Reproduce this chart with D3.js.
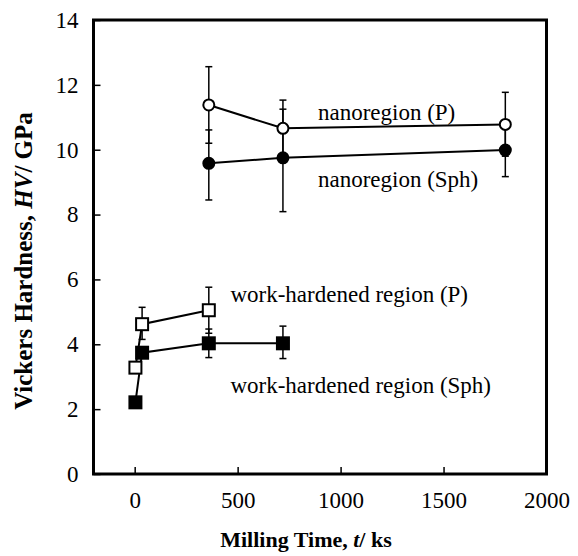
<!DOCTYPE html>
<html>
<head>
<meta charset="utf-8">
<script src="https://cdn.jsdelivr.net/npm/d3@7"></script>
<style>
  body { margin: 0; background: #fff; }
  svg { display: block; font-family: "Liberation Serif", "DejaVu Serif", serif; }
  svg text { font-family: "Liberation Serif", serif; }
</style>
</head>
<body>
<svg id="chart" width="578" height="556"></svg>
<script>
// milling time (ks) and Vickers hardness (GPa)
const nanoTime = [360, 720, 1800];
const nanoP = [11.38, 10.66, 10.78];
const nanoPHi = [12.56, 11.53, 11.77];
const nanoPLo = [10.2, 9.8, 9.8];
const nanoSph = [9.58, 9.75, 9.99];
const nanoSphHi = [10.61, 11.25, 10.78];
const nanoSphLo = [8.45, 8.09, 9.17];

const workTimeP = [3.6, 36, 360];
const workP = [3.28, 4.62, 5.05];
const workPHi = [3.28, 5.14, 5.76];
const workPLo = [3.28, 4.15, 4.34];
const workTimeSph = [3.6, 36, 360, 720];
const workSph = [2.21, 3.74, 4.03, 4.03];
const workSphHi = [2.21, 3.74, 4.47, 4.56];
const workSphLo = [2.21, 3.74, 3.59, 3.56];

const xTicks = [0, 500, 1000, 1500, 2000];
const yTicks = [0, 2, 4, 6, 8, 10, 12, 14];

// label anchors in data units
const labels = [
  { text: "nanoregion (P)", t: 890, hv: 10.92 },
  { text: "nanoregion (Sph)", t: 890, hv: 8.86 },
  { text: "work-hardened region (P)", t: 465, hv: 5.31 },
  { text: "work-hardened region (Sph)", t: 465, hv: 2.51 },
];

const svg = d3.select("#chart");
const pLeft = 93.5, pRight = 546.5, pTop = 20, pBottom = 474;
const fs = 23;

const x = d3.scaleLinear().domain([-200, 2000]).range([pLeft, pRight]);
const y = d3.scaleLinear().domain([0, 14]).range([pBottom, pTop]);

const toPts = (ts, vs, hi, lo) => ts.map((t, i) => ({ t: t, v: vs[i], hi: hi[i], lo: lo[i] }));
const series = [
  { pts: toPts(nanoTime, nanoP, nanoPHi, nanoPLo), shape: "circle", fill: "#fff" },
  { pts: toPts(nanoTime, nanoSph, nanoSphHi, nanoSphLo), shape: "circle", fill: "#000" },
  { pts: toPts(workTimeP, workP, workPHi, workPLo), shape: "square", fill: "#fff" },
  { pts: toPts(workTimeSph, workSph, workSphHi, workSphLo), shape: "square", fill: "#000" },
];

// axes, ticks pointing inward
const xAxis = svg.append("g")
  .attr("transform", `translate(0,${pBottom})`)
  .call(d3.axisBottom(x).tickValues(xTicks).tickFormat(d3.format("d")).tickSize(-7).tickPadding(18));
const yAxis = svg.append("g")
  .attr("transform", `translate(${pLeft},0)`)
  .call(d3.axisLeft(y).tickValues(yTicks).tickFormat(d3.format("d")).tickSize(-7).tickPadding(15));
[xAxis, yAxis].forEach((a) => {
  a.attr("font-family", "Liberation Serif").attr("font-size", fs);
  a.select(".domain").remove();
  a.selectAll("line").attr("stroke", "#000").attr("stroke-width", 1.5);
  a.selectAll("text")
    .attr("fill", "#000")
    .attr("font-family", "Liberation Serif")
    .style("font-size", fs + "px");
});

const line = d3.line().x((d) => x(d.t)).y((d) => y(d.v));

// connecting lines
svg.selectAll("path.series")
  .data(series)
  .enter()
  .append("path")
  .attr("class", "series")
  .attr("d", (d) => line(d.pts))
  .attr("fill", "none")
  .attr("stroke", "#000")
  .attr("stroke-width", 2);

// error bars
const allPts = series.flatMap((s) => s.pts).filter((p) => p.hi !== p.lo);
const eb = svg.selectAll("g.err").data(allPts).enter().append("g").attr("class", "err");
eb.append("line")
  .attr("x1", (d) => x(d.t)).attr("x2", (d) => x(d.t))
  .attr("y1", (d) => y(d.hi)).attr("y2", (d) => y(d.lo));
eb.append("line")
  .attr("x1", (d) => x(d.t) - 3.5).attr("x2", (d) => x(d.t) + 3.5)
  .attr("y1", (d) => y(d.hi)).attr("y2", (d) => y(d.hi));
eb.append("line")
  .attr("x1", (d) => x(d.t) - 3.5).attr("x2", (d) => x(d.t) + 3.5)
  .attr("y1", (d) => y(d.lo)).attr("y2", (d) => y(d.lo));
eb.selectAll("line").attr("stroke", "#000").attr("stroke-width", 1.5);

// markers
series.forEach((s) => {
  const g = svg.append("g");
  if (s.shape === "circle") {
    g.selectAll("circle").data(s.pts).enter().append("circle")
      .attr("cx", (d) => x(d.t)).attr("cy", (d) => y(d.v)).attr("r", 5.5)
      .attr("fill", s.fill).attr("stroke", "#000").attr("stroke-width", 2);
  } else {
    g.selectAll("rect").data(s.pts).enter().append("rect")
      .attr("x", (d) => x(d.t) - 6).attr("y", (d) => y(d.v) - 6)
      .attr("width", 12).attr("height", 12)
      .attr("fill", s.fill).attr("stroke", "#000").attr("stroke-width", 2);
  }
});

// frame
svg.append("rect")
  .attr("x", pLeft).attr("y", pTop)
  .attr("width", pRight - pLeft).attr("height", pBottom - pTop)
  .attr("fill", "none").attr("stroke", "#000").attr("stroke-width", 3);

// annotations
svg.selectAll("text.lab")
  .data(labels)
  .enter()
  .append("text")
  .attr("class", "lab")
  .attr("x", (d) => x(d.t))
  .attr("y", (d) => y(d.hv))
  .style("font-size", fs + "px")
  .text((d) => d.text);

// axis titles
const xt = svg.append("text")
  .attr("x", 306).attr("y", 547)
  .attr("text-anchor", "middle")
  .style("font-size", "22px")
  .style("font-weight", "bold");
xt.append("tspan").text("Milling Time, ");
xt.append("tspan").style("font-style", "italic").text("t");
xt.append("tspan").text("/ ks");

const yt = svg.append("text")
  .attr("transform", "translate(32,261) rotate(-90)")
  .attr("text-anchor", "middle")
  .style("font-size", "25px")
  .style("font-weight", "bold");
yt.append("tspan").text("Vickers Hardness, ");
yt.append("tspan").style("font-style", "italic").text("HV");
yt.append("tspan").text("/ GPa");
</script>
</body>
</html>
